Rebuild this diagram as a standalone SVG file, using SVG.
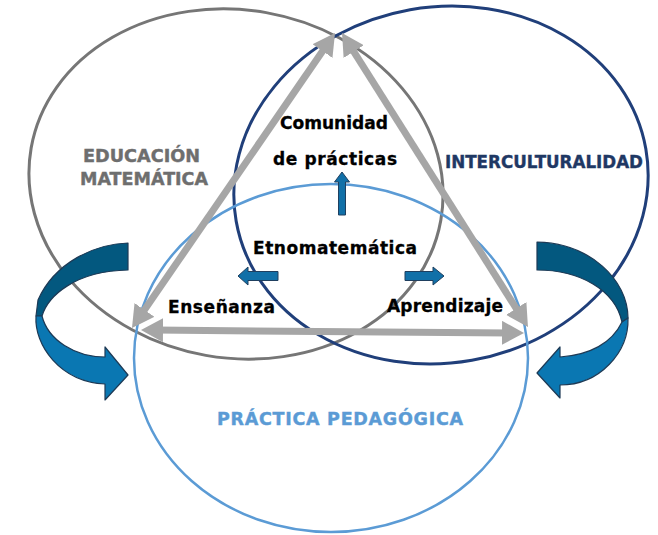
<svg xmlns="http://www.w3.org/2000/svg" width="658" height="535" viewBox="0 0 658 535">
<style>
.ring{fill:none}
.g{stroke:#767676;stroke-width:3}
.db{stroke:#203f7a;stroke-width:3}
.lb{stroke:#5b9bd5;stroke-width:2.5}
.tri{stroke:#a6a6a6;stroke-width:7;fill:none;marker-start:url(#ah);marker-end:url(#ah)}
.sa{fill:#1170a8;stroke:#1f3f5f;stroke-width:1}
.cdark{fill:#03587f;stroke:#1d3a56;stroke-width:1.2;stroke-linejoin:round}
.clight{fill:#0a77b2;stroke:#1d3a56;stroke-width:1.2;stroke-linejoin:round}
text{font-family:"DejaVu Sans","Liberation Sans",sans-serif;font-weight:bold}
.big{font-size:17.5px;stroke-width:0.4}
.lab{font-size:17px;fill:#000;stroke:#000;stroke-width:0.3}
</style>
<defs>
<marker id="ah" viewBox="0 0 22 24" refX="8" refY="12" markerWidth="22" markerHeight="24" markerUnits="userSpaceOnUse" orient="auto-start-reverse">
<path d="M0,0 L22,12 L0,24 Z" fill="#a6a6a6"/>
</marker>
</defs>
<g id="circle-educacion"><ellipse class="ring g" cx="236" cy="184" rx="208" ry="174" transform="rotate(10 236 184)"/></g>
<g id="circle-interculturalidad"><ellipse class="ring db" cx="441" cy="185" rx="208" ry="178" transform="rotate(-10 441 185)"/></g>
<g id="circle-practica"><ellipse class="ring lb" cx="331" cy="358" rx="197" ry="174"/></g>
<g id="connectors">
<line class="tri" x1="139.9" y1="316.5" x2="327.1" y2="44.5"/>
<line class="tri" x1="349.5" y1="44.8" x2="520.5" y2="315.2"/>
<line class="tri" x1="155" y1="330.1" x2="510" y2="332.9"/>
<polygon class="sa" points="338.5,215 345.5,215 345.5,182 349.5,182 342,172 334.5,182 338.5,182"/>
<polygon class="sa" points="278,271.5 278,280.5 248,280.5 248,285 238,276 248,267 248,271.5"/>
<polygon class="sa" points="405,271.5 405,280.5 433,280.5 433,285 444,276 433,267 433,271.5"/>
<g id="curved-left">
<path class="cdark" d="M128,243 C95,244 55,262 38,300 L36,316 L42,316 C48,296 75,271 128,270 Z"/>
<path class="clight" d="M36,316 C34,345 60,382 105,384 L105,400 L128,375 L105,347 L105,357 C75,357 48,340 42,316 Z"/>
</g>
<g id="curved-right">
<path class="cdark" d="M537,242 C590,243 628,280 628,318 L622,322 C615,290 580,270 537,270 Z"/>
<path class="clight" d="M628,318 C629,352 600,385 560,385 L560,398 L537,373 L560,347 L560,357 C590,355 612,343 622,322 Z"/>
</g>
</g>
<g id="label-educacion">
<text class="big" x="83" y="162" fill="#6e6e6e" stroke="#6e6e6e" textLength="117" lengthAdjust="spacingAndGlyphs">EDUCACIÓN</text>
<text class="big" x="80" y="185" fill="#6e6e6e" stroke="#6e6e6e" textLength="128" lengthAdjust="spacingAndGlyphs">MATEMÁTICA</text>
</g>
<g id="label-interculturalidad"><text class="big" x="445" y="168" fill="#1f3864" stroke="#1f3864" textLength="198" lengthAdjust="spacingAndGlyphs">INTERCULTURALIDAD</text></g>
<g id="label-practica"><text class="big" x="217" y="424.5" fill="#5b9bd5" stroke="#5b9bd5" textLength="246" lengthAdjust="spacing">PRÁCTICA PEDAGÓGICA</text></g>
<g id="node-comunidad">
<text class="lab" x="280" y="128.5" textLength="108" lengthAdjust="spacingAndGlyphs">Comunidad</text>
<text class="lab" x="273" y="165" textLength="124" lengthAdjust="spacing">de prácticas</text>
</g>
<g id="node-etnomatematica"><text class="lab" x="253" y="254" textLength="164" lengthAdjust="spacing">Etnomatemática</text></g>
<g id="node-ensenanza"><text class="lab" x="168" y="313" textLength="107" lengthAdjust="spacing">Enseñanza</text></g>
<g id="node-aprendizaje"><text class="lab" x="387" y="312" textLength="116" lengthAdjust="spacing">Aprendizaje</text></g>
</svg>
